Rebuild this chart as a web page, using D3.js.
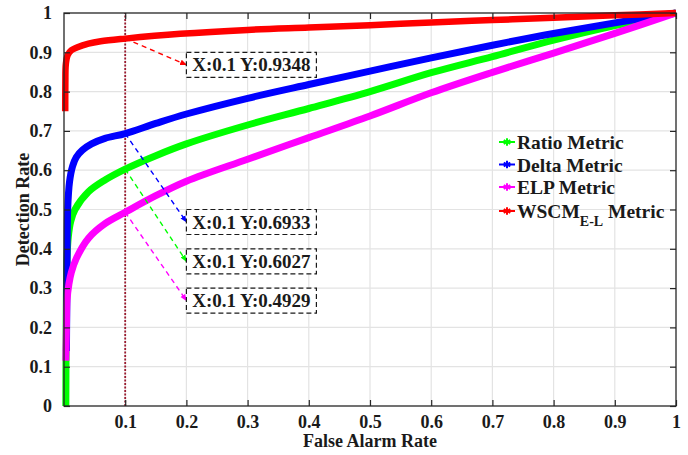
<!DOCTYPE html>
<html>
<head>
<meta charset="utf-8">
<script src="https://cdn.jsdelivr.net/npm/d3@7/dist/d3.min.js"></script>
<style>
  html, body { margin: 0; padding: 0; background: #fff; }
  svg { display: block; }
  svg text { font-family: "Liberation Serif", "DejaVu Serif", serif !important; font-weight: bold; fill: #1a1a1a; }
</style>
</head>
<body>
<svg id="chart" width="688" height="455"></svg>
<script>
// ROC curves: false alarm rate vs detection rate for each metric
const ratioFA  = [0.003, 0.0035, 0.004, 0.005, 0.007, 0.011, 0.018, 0.04, 0.067, 0.1, 0.15, 0.2, 0.3, 0.4, 0.5, 0.6, 0.7, 0.8, 0.9, 1.0];
const ratioDR  = [0.0, 0.2, 0.3, 0.38, 0.43, 0.47, 0.5, 0.545, 0.575, 0.6027, 0.637, 0.667, 0.715, 0.757, 0.8, 0.848, 0.889, 0.931, 0.968, 1.0];

const deltaFA  = [0.004, 0.005, 0.006, 0.009, 0.014, 0.02, 0.03, 0.045, 0.067, 0.1, 0.15, 0.2, 0.3, 0.4, 0.5, 0.6, 0.7, 0.8, 0.9, 1.0];
const deltaDR  = [0.14, 0.35, 0.5, 0.57, 0.61, 0.633, 0.651, 0.667, 0.681, 0.6933, 0.719, 0.743, 0.783, 0.818, 0.852, 0.886, 0.918, 0.948, 0.975, 1.0];

const elpFA    = [0.003, 0.004, 0.005, 0.008, 0.012, 0.02, 0.04, 0.067, 0.1, 0.15, 0.2, 0.3, 0.4, 0.5, 0.6, 0.7, 0.8, 0.9, 1.0];
const elpDR    = [0.115, 0.2, 0.27, 0.31, 0.34, 0.375, 0.427, 0.464, 0.4929, 0.535, 0.572, 0.628, 0.683, 0.738, 0.797, 0.849, 0.898, 0.948, 1.0];

const wscmFA   = [0.002, 0.0022, 0.003, 0.006, 0.012, 0.021, 0.04, 0.06, 0.1, 0.19, 0.3, 0.4, 0.5, 0.6, 0.7, 0.8, 0.9, 1.0];
const wscmDR   = [0.75, 0.82, 0.87, 0.893, 0.905, 0.912, 0.922, 0.928, 0.9348, 0.947, 0.957, 0.963, 0.969, 0.976, 0.982, 0.988, 0.994, 1.0];

const seriesNames  = ["Ratio Metric", "Delta Metric", "ELP Metric", "WSCM"];
const seriesColors = ["#00ff00", "#0000ff", "#ff00ff", "#ff0000"];

// data tips at FA = 0.1 and where their boxes sit (x, top y in data units)
const tipX      = [0.1, 0.1, 0.1, 0.1];
const tipY      = [0.9348, 0.6933, 0.6027, 0.4929];
const tipColors = ["#ff0000", "#0000ff", "#00ff00", "#ff00ff"];
const boxX      = [0.2, 0.2, 0.2, 0.2];
const boxTop    = [0.9, 0.5, 0.4, 0.3];

const xTicks = [0.1, 0.2, 0.3, 0.4, 0.5, 0.6, 0.7, 0.8, 0.9, 1];
const yTicks = [0, 0.1, 0.2, 0.3, 0.4, 0.5, 0.6, 0.7, 0.8, 0.9, 1];
const threshold = 0.1;

(function draw() {
  const FONT = '"Liberation Serif", "DejaVu Serif", serif';
  const svg = d3.select("#chart");
  const pL = 64, pR = 676, pT = 13, pB = 406;
  const x = d3.scaleLinear().domain([0, 1]).range([pL, pR]);
  const y = d3.scaleLinear().domain([0, 1]).range([pB, pT]);

  // grid
  const grid = svg.append("g").attr("stroke", "#e3e3e3").attr("stroke-width", 1.2);
  grid.selectAll(".gx").data(xTicks.filter(d => d < 1)).join("line")
    .attr("x1", d => x(d)).attr("x2", d => x(d)).attr("y1", pT).attr("y2", pB);
  grid.selectAll(".gy").data(yTicks.filter(d => d > 0 && d < 1)).join("line")
    .attr("x1", pL).attr("x2", pR).attr("y1", d => y(d)).attr("y2", d => y(d));

  // threshold marker
  svg.append("line")
    .attr("x1", x(threshold)).attr("x2", x(threshold)).attr("y1", y(0)).attr("y2", y(1))
    .attr("stroke", "#9b1b30").attr("stroke-width", 1.8).attr("stroke-dasharray", "2,1.5");

  // curves
  const line = d3.line().x(d => x(d[0])).y(d => y(d[1])).curve(d3.curveCatmullRom.alpha(0.5));
  const curves = [
    d3.zip(ratioFA, ratioDR),
    d3.zip(deltaFA, deltaDR),
    d3.zip(elpFA, elpDR),
    d3.zip(wscmFA, wscmDR)
  ];
  curves.forEach((pts, i) => {
    svg.append("path")
      .attr("d", line(pts))
      .attr("fill", "none")
      .attr("stroke", seriesColors[i])
      .attr("stroke-width", i === 3 ? 6.5 : 7)
      .attr("stroke-linejoin", "round")
      .attr("stroke-linecap", "butt");
  });

  // axes with inward ticks on all four sides
  const tickLen = 6;
  const axL = svg.append("g").attr("transform", `translate(${pL},0)`)
    .call(d3.axisLeft(y).tickValues(yTicks).tickSize(-tickLen).tickPadding(tickLen + 6).tickFormat(d3.format("")));
  const axB = svg.append("g").attr("transform", `translate(0,${pB})`)
    .call(d3.axisBottom(x).tickValues(xTicks).tickSize(-tickLen).tickPadding(tickLen + 3).tickFormat(d3.format("")));
  const axR = svg.append("g").attr("transform", `translate(${pR},0)`)
    .call(d3.axisRight(y).tickValues(yTicks).tickSize(-tickLen).tickFormat(""));
  const axT = svg.append("g").attr("transform", `translate(0,${pT})`)
    .call(d3.axisTop(x).tickValues(xTicks).tickSize(-tickLen).tickFormat(""));
  [axL, axB, axR, axT].forEach(a => {
    a.attr("font-family", FONT).attr("font-size", 18);
    a.select(".domain").remove();
    a.selectAll(".tick line").attr("stroke", "#262626").attr("stroke-width", 1.2);
    a.selectAll("text").attr("fill", "#1a1a1a").attr("font-weight", "bold");
  });
  svg.append("rect").attr("x", pL).attr("y", pT).attr("width", pR - pL).attr("height", pB - pT)
    .attr("fill", "none").attr("stroke", "#262626").attr("stroke-width", 1.3);

  // axis titles
  svg.append("text").attr("x", (pL + pR) / 2).attr("y", 447).attr("text-anchor", "middle")
    .attr("font-family", FONT).attr("font-size", 18).text("False Alarm Rate");
  svg.append("text").attr("transform", `translate(29,${(pT + pB) / 2}) rotate(-90)`)
    .attr("text-anchor", "middle").attr("font-family", FONT).attr("font-size", 18).text("Detection Rate");

  // data tips
  const defs = svg.append("defs");
  tipColors.forEach((c, i) => {
    defs.append("marker").attr("id", "arr" + i).attr("viewBox", "0 0 10 10")
      .attr("refX", 9).attr("refY", 5).attr("markerWidth", 5).attr("markerHeight", 5)
      .attr("orient", "auto")
      .append("path").attr("d", "M0,1 L10,5 L0,9 Z").attr("fill", c);
  });
  const boxW = 130, boxH = 25;
  tipY.forEach((v, i) => {
    const bx = x(boxX[i]), by = y(boxTop[i]);
    svg.append("line")
      .attr("x1", x(tipX[i])).attr("y1", y(v)).attr("x2", bx).attr("y2", by + boxH / 2)
      .attr("stroke", tipColors[i]).attr("stroke-width", 1.4).attr("stroke-dasharray", "5,4")
      .attr("marker-end", `url(#arr${i})`);
    svg.append("rect").attr("x", bx).attr("y", by).attr("width", boxW).attr("height", boxH)
      .attr("fill", "#fff").attr("stroke", "#1a1a1a").attr("stroke-width", 1.2).attr("stroke-dasharray", "5,3");
    svg.append("text").attr("x", bx + boxW / 2).attr("y", by + 19).attr("text-anchor", "middle")
      .attr("font-family", FONT).attr("font-size", 19).text(`X:${tipX[i]} Y:${v}`);
  });

  // legend
  const legX = 499, legY = [142, 164.5, 187, 211];
  seriesNames.forEach((name, i) => {
    const g = svg.append("g").attr("transform", `translate(${legX},${legY[i]})`);
    g.append("line").attr("x1", 0).attr("x2", 16).attr("y1", 0).attr("y2", 0)
      .attr("stroke", seriesColors[i]).attr("stroke-width", 2);
    g.append("path").attr("d", d3.symbol(d3.symbolAsterisk, 40)())
      .attr("transform", "translate(8,0)").attr("stroke", seriesColors[i]).attr("stroke-width", 2).attr("fill", "none");
    const t = g.append("text").attr("x", 18).attr("y", 7).attr("font-family", FONT).attr("font-size", 19.5);
    if (i === 3) {
      t.append("tspan").text(name);
      t.append("tspan").attr("dy", 8).attr("font-size", 14).text("E-L");
      t.append("tspan").attr("dy", -8).text(" Metric");
    } else {
      t.text(name);
    }
  });
})();
</script>
</body>
</html>
